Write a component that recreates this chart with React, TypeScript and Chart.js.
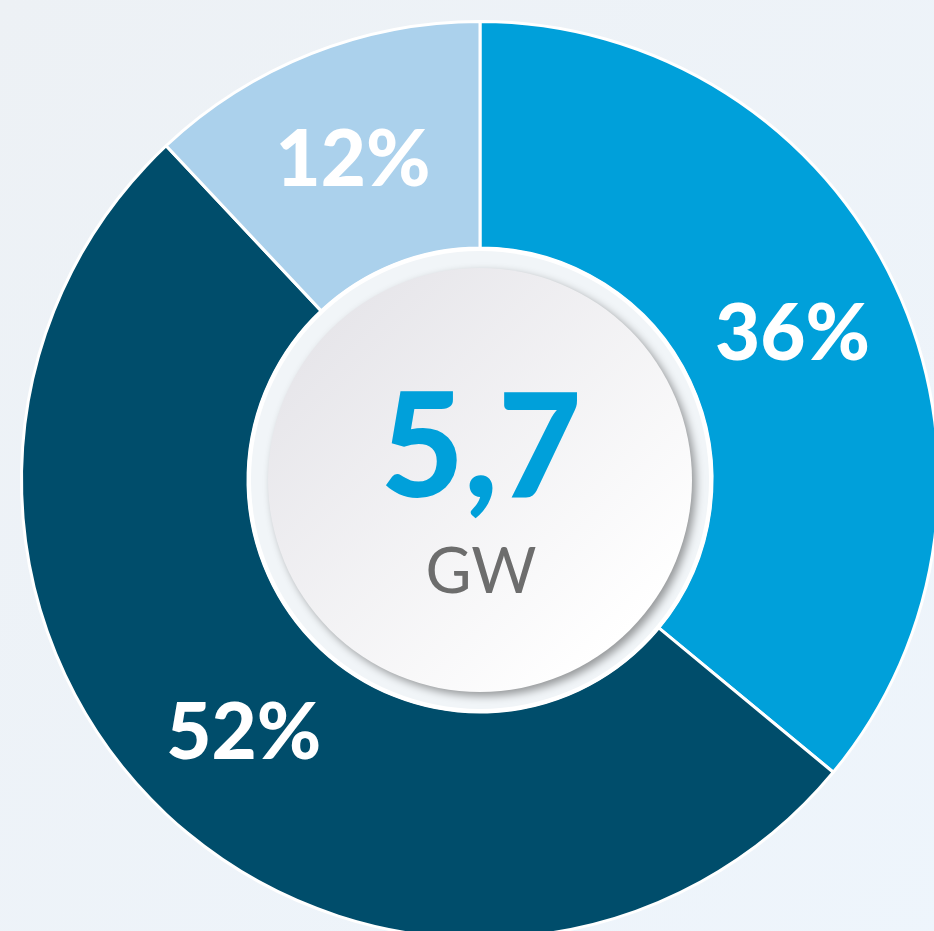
import React, { useEffect, useRef } from "react";
import { Chart, registerables } from "chart.js";

Chart.register(...registerables);

const categories = ["Segment A", "Segment B", "Segment C"];
const shares = [36, 52, 12];
const sliceColors = ["#00A0DA", "#004D6B", "#ABD1EC"];
const totalValue = "5,7";
const totalUnit = "GW";

const FONT = "Lato, 'Open Sans', sans-serif";

const decorPlugin = {
  id: "decor",
  beforeDraw(chart: any) {
    const { ctx, width, height } = chart;
    ctx.save();
    const g = ctx.createLinearGradient(0, 0, width, height);
    g.addColorStop(0, "#EDF1F5");
    g.addColorStop(1, "#EEF5FC");
    ctx.fillStyle = g;
    ctx.fillRect(0, 0, width, height);
    ctx.restore();
  },
  afterDatasetsDraw(chart: any) {
    const { ctx } = chart;
    const meta = chart.getDatasetMeta(0);
    const arc = meta.data[0];
    if (!arc) return;
    const { x, y, innerRadius } = arc.getProps(["x", "y", "innerRadius"], true);
    ctx.save();
    // white ring
    ctx.beginPath();
    ctx.arc(x, y, innerRadius + 1, 0, Math.PI * 2);
    ctx.fillStyle = "#FFFFFF";
    ctx.fill();
    ctx.beginPath();
    ctx.arc(x, y, innerRadius - 3, 0, Math.PI * 2);
    ctx.fillStyle = "#F1F5F8";
    ctx.fill();
    // inner disc with shadow
    const r = innerRadius - 20;
    ctx.shadowColor = "rgba(0,0,0,0.38)";
    ctx.shadowBlur = 9;
    ctx.shadowOffsetX = 4;
    ctx.shadowOffsetY = 4;
    const g = ctx.createLinearGradient(x - r, y - r, x + r * 0.7, y + r * 0.7);
    g.addColorStop(0, "#E2E1E6");
    g.addColorStop(1, "#FFFFFF");
    ctx.beginPath();
    ctx.arc(x, y, r, 0, Math.PI * 2);
    ctx.fillStyle = g;
    ctx.fill();
    ctx.restore();

    // center text
    ctx.save();
    ctx.textAlign = "center";
    ctx.textBaseline = "alphabetic";
    ctx.fillStyle = "#00A0DA";
    ctx.font = `900 144px ${FONT}`;
    ctx.fillText(totalValue, x + 1, y + 17);
    ctx.fillStyle = "#6D6D6D";
    ctx.font = `400 63px ${FONT}`;
    ctx.fillText(totalUnit, x + 1, y + 113);
    ctx.restore();

    // slice labels
    ctx.save();
    ctx.textAlign = "center";
    ctx.textBaseline = "middle";
    ctx.fillStyle = "#FFFFFF";
    ctx.font = `900 78px ${FONT}`;
    meta.data.forEach((el: any, i: number) => {
      const p = el.tooltipPosition();
      ctx.fillText(`${shares[i]}%`, p.x, p.y + 2);
    });
    ctx.restore();
  },
};

export default function App() {
  const ref = useRef<HTMLCanvasElement>(null);
  useEffect(() => {
    if (!ref.current) return;
    const chart = new Chart(ref.current, {
      type: "doughnut",
      data: {
        labels: categories,
        datasets: [
          {
            data: shares,
            backgroundColor: sliceColors,
            borderColor: "#FFFFFF",
            borderWidth: 3,
          },
        ],
      },
      options: {
        animation: false,
        responsive: false,
        cutout: "50.6%",
        layout: { padding: 20 },
        plugins: {
          legend: { display: false },
          tooltip: { enabled: false },
        },
        events: [],
      },
      plugins: [decorPlugin],
    });
    return () => chart.destroy();
  }, []);
  return (
    <div
      style={{
        position: "fixed",
        left: 0,
        top: 0,
        width: 934,
        height: 931,
        overflow: "hidden",
        background: "#EEF3F8",
      }}
    >
      <canvas ref={ref} width={960} height={960} style={{ display: "block", width: 960, height: 960 }} />
    </div>
  );
}
